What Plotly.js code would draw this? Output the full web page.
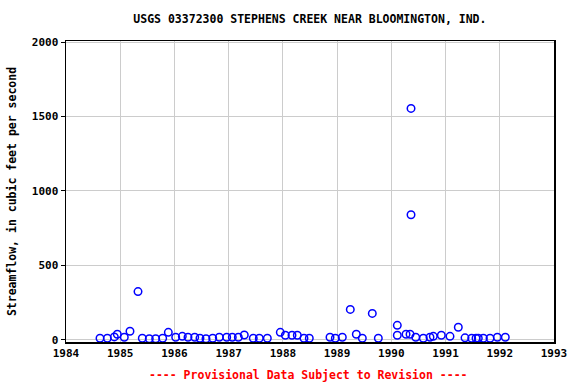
<!DOCTYPE html>
<html>
<head>
<meta charset="utf-8">
<script src="https://cdn.plot.ly/plotly-3.0.1.min.js"></script>
<style>html,body{margin:0;padding:0;background:#fff;}#chart{width:576px;height:384px;}</style>
</head>
<body>
<div id="chart"></div>
<script>
// Sample dates as decimal years
const dates = [1984.627,1984.762,1984.891,1984.946,1985.075,1985.180,1985.328,1985.407,1985.536,1985.654,
  1985.783,1985.887,1986.023,1986.145,1986.250,1986.374,1986.471,1986.582,1986.706,1986.827,
  1986.964,1987.067,1987.178,1987.288,1987.454,1987.565,1987.713,1987.952,1988.045,1988.168,
  1988.266,1988.389,1988.487,1988.869,1988.967,1989.096,1989.243,1989.354,1989.465,1989.649,
  1989.760,1990.110,1990.110,1990.271,1990.345,1990.363,1990.363,1990.450,1990.590,1990.713,
  1990.774,1990.922,1991.082,1991.235,1991.359,1991.482,1991.562,1991.604,1991.697,1991.820,
  1991.955,1992.102];
// Streamflow, cubic feet per second
const flows = [10,10,19,37,17,57,324,10,7,7,
  10,50,17,23,17,17,10,7,10,17,
  17,17,17,32,10,10,10,50,30,30,
  30,10,10,17,10,17,204,37,10,177,
  10,97,30,37,37,1555,840,17,10,17,
  23,30,23,84,13,10,10,10,10,10,
  17,17];
const xTicks = [1984,1985,1986,1987,1988,1989,1990,1991,1992,1993];
const yTicks = [0,500,1000,1500,2000];

const mono = "DejaVu Sans Mono, monospace";
const trace = {
  x: dates, y: flows, type: 'scatter', mode: 'markers',
  marker: {symbol: 'circle-open', size: 7.5, color: '#0000ff', line: {color: '#0000ff', width: 1.5}},
  hoverinfo: 'x+y', showlegend: false
};
const layout = {
  width: 576, height: 384,
  margin: {l: 66, r: 22, t: 41, b: 42},
  paper_bgcolor: '#fff', plot_bgcolor: '#fff',
  title: {text: '<b>USGS 03372300 STEPHENS CREEK NEAR BLOOMINGTON, IND.</b>',
    font: {family: mono, size: 11.5, color: '#000'}, x: 0.538, xanchor: 'center', y: 0.95, yanchor: 'middle'},
  xaxis: {range: [1984, 1993], tickvals: xTicks, ticktext: xTicks.map(v => '<b>' + v + '</b>'),
    showgrid: true, gridcolor: '#cccccc', gridwidth: 1, zeroline: false,
    showline: true, linecolor: '#000', linewidth: 1.5, mirror: true,
    ticks: '', tickfont: {family: mono, size: 11, color: '#000'}},
  yaxis: {range: [-15, 2008], tickvals: yTicks, ticktext: yTicks.map(v => '<b>' + v + '</b>'),
    showgrid: true, gridcolor: '#cccccc', gridwidth: 1, zeroline: false,
    showline: true, linecolor: '#000', linewidth: 1.5, mirror: true,
    ticks: 'outside', ticklen: 4, tickcolor: '#000',
    tickfont: {family: mono, size: 11, color: '#000'},
    title: {text: '<b>Streamflow, in cubic feet per second</b>', font: {family: mono, size: 11.5, color: '#000'}, standoff: 13}},
  annotations: [{text: '<b>---- Provisional Data Subject to Revision ----</b>', xref: 'paper', yref: 'paper',
    x: 0.497, y: -0.108, xanchor: 'center', yanchor: 'middle', showarrow: false,
    font: {family: mono, size: 11.5, color: '#ff0000'}}]
};
Plotly.newPlot('chart', [trace], layout, {staticPlot: true, displayModeBar: false});
</script>
</body>
</html>
